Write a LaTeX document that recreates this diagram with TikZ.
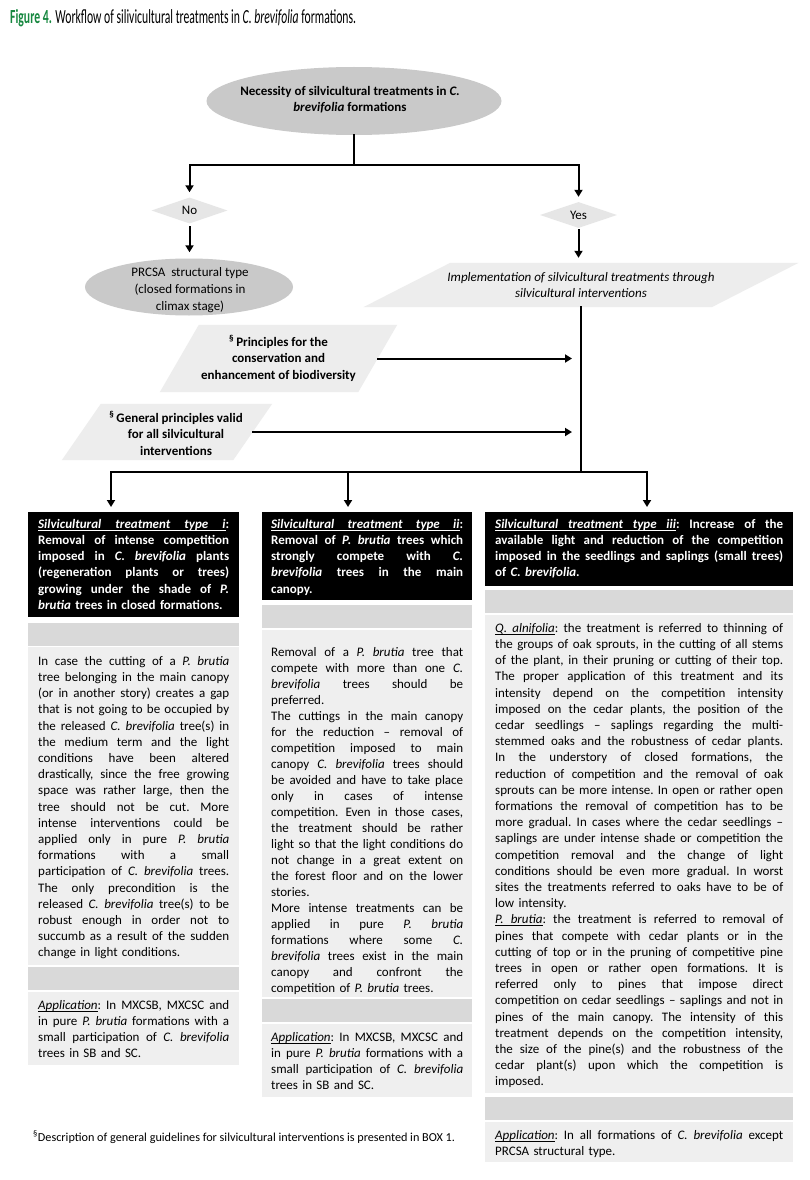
\documentclass[tikz,border=0pt]{standalone}
\usepackage{fontspec}
\setmainfont{Carlito}
\newfontfamily\titlefont[FakeStretch=0.585]{Carlito}
\usetikzlibrary{shapes.geometric,arrows.meta,backgrounds}
\definecolor{ellgray}{HTML}{C9C9C9}
\definecolor{dgray}{HTML}{E6E6E6}
\definecolor{pgray}{HTML}{EDEDED}
\definecolor{bargray}{HTML}{D9D9D9}
\definecolor{bodygray}{HTML}{EFEFEF}
\definecolor{figgreen}{HTML}{16873F}
\newcommand{\bodyfs}{\fontsize{13}{16.2}\selectfont\frenchspacing}
\newcommand{\JL}[1]{{\spaceskip=\fontdimen2\font plus 10pt minus 0.5pt\relax\makebox[\linewidth][s]{#1}}\\}
\newcommand{\ulw}[1]{\setbox0\hbox{#1}\rlap{\vrule height-1.6pt depth2.2pt width\wd0}\box0}
\newcommand{\uls}{\leaders\vrule height-1.6pt depth2.2pt\hskip\fontdimen2\font plus 10pt minus 0.5pt\relax}
\newcommand{\pfill}[2]{\fill[pgray] ([xshift=-#2]#1.south west) -- ([xshift=-#2]#1.south east) -- ([xshift=#2]#1.north east) -- ([xshift=#2]#1.north west) -- cycle;}
\tikzset{
  conn/.style={line width=2pt, draw=black, line cap=rect},
  arr/.style={conn, -{Triangle[length=7pt,width=8pt]}},
  ellbox/.style={ellipse, fill=ellgray, inner sep=0pt, draw=none},
  dia/.style={diamond, fill=dgray, inner sep=0pt, draw=none, font=\bodyfs},
  para/.style={rectangle, inner sep=0pt, draw=none, align=center},
  box/.style={rectangle, anchor=north west, inner sep=0pt, draw=none},
  hdr/.style={box, fill=black},
  barbox/.style={box, fill=bargray},
  bodybox/.style={box, fill=bodygray},
  coltext/.style={anchor=north west, inner sep=0pt, text width=#1, align=left},
  ctext/.style={inner sep=0pt, align=center},
}
\begin{document}
\begin{tikzpicture}[x=1pt,y=-1pt]
\useasboundingbox (0,0) rectangle (809,1180);

% title
\node[anchor=base west, inner sep=0pt, font=\titlefont\fontsize{20}{22}\selectfont] (title) at (10,24)
  {\textcolor{figgreen}{\bfseries Figure 4.} Workflow of silivicultural treatments in \textit{C. brevifolia} formations.};

% top ellipse
\node[ellbox, minimum width=295pt, minimum height=68pt] (top) at (354,101) {};
\node[ctext, font=\fontsize{13}{15.5}\selectfont\bfseries] (toptext) at (350,99.5)
  {Necessity of silvicultural treatments in \textit{C.}\\\textit{brevifolia} formations};

% diamonds
\node[dia, minimum width=76pt, minimum height=26pt] (no) at (189.5,210.5) {No};
\node[dia, minimum width=77pt, minimum height=26pt] (yes) at (578.5,215) {Yes};

% PRCSA ellipse
\node[ellbox, minimum width=208pt, minimum height=57pt] (prcsa) at (189,287) {};
\node[ctext, font=\fontsize{13}{17}\selectfont] (prtext) at (190,290)
  {PRCSA\ \ structural type\\(closed formations in\\climax stage)};

% implementation parallelogram
\node[para, minimum width=348pt, minimum height=44pt, font=\fontsize{13}{16}\selectfont\itshape] (impl) at (581,285)
  {Implementation of silvicultural treatments through\\silvicultural interventions};

% principles
\node[para, minimum width=198pt, minimum height=67pt, font=\fontsize{13}{16.5}\selectfont\bfseries] (pr) at (278.5,358.5)
  {\textsuperscript{\S}\,Principles for the\\conservation and\\enhancement of biodiversity};
\node[para, minimum width=171pt, minimum height=56pt] (gen) at (167,432) {};
\node[ctext, font=\fontsize{13}{16.5}\selectfont\bfseries] (gentext) at (176,433.5)
  {\textsuperscript{\S}\,General principles valid\\for all silvicultural\\interventions};

% ---------- column 1
\node[hdr, minimum width=211pt, minimum height=105pt] (h1) at (28,512) {};
\node[coltext=191pt, text=white, font=\bodyfs\bfseries] (h1t) at (38,516.7)
{\strut\JL{\textit{\ulw{Silvicultural}\uls\ulw{treatment}\uls\ulw{type}\uls\ulw{i}}:}
\JL{Removal of intense competition}
\JL{imposed in \textit{C. brevifolia} plants}
\JL{(regeneration plants or trees)}
\JL{growing under the shade of \textit{P.}}
\textit{brutia} trees in closed formations.};
\node[barbox, minimum width=211pt, minimum height=23pt] (k1) at (28,623) {};
\node[bodybox, minimum width=211pt, minimum height=318pt] (b1) at (28,647) {};
\node[coltext=191pt, font=\bodyfs] (b1t) at (38,653.7)
{\strut\JL{In case the cutting of a \textit{P. brutia}}
\JL{tree belonging in the main canopy}
\JL{(or in another story) creates a gap}
\JL{that is not going to be occupied by}
\JL{the released \textit{C. brevifolia} tree(s) in}
\JL{the medium term and the light}
\JL{conditions have been altered}
\JL{drastically, since the free growing}
\JL{space was rather large, then the}
\JL{tree should not be cut. More}
\JL{intense interventions could be}
\JL{applied only in pure \textit{P. brutia}}
\JL{formations with a small}
\JL{participation of \textit{C. brevifolia} trees.}
\JL{The only precondition is the}
\JL{released \textit{C. brevifolia} tree(s) to be}
\JL{robust enough in order not to}
\JL{succumb as a result of the sudden}
change in light conditions.};
\node[barbox, minimum width=211pt, minimum height=23pt] (k1b) at (28,967) {};
\node[bodybox, minimum width=211pt, minimum height=73pt] (a1) at (28,992) {};
\node[coltext=191pt, font=\bodyfs] (a1t) at (38,997.7)
{\strut\JL{\textit{\ulw{Application}}: In MXCSB, MXCSC and}
\JL{in pure \textit{P. brutia} formations with a}
\JL{small participation of \textit{C. brevifolia}}
trees in SB and SC.};

% ---------- column 2
\node[hdr, minimum width=210pt, minimum height=88pt] (h2) at (262,512) {};
\node[coltext=192pt, text=white, font=\bodyfs\bfseries] (h2t) at (271,516.7)
{\strut\JL{\textit{\ulw{Silvicultural}\uls\ulw{treatment}\uls\ulw{type}\uls\ulw{ii}}:}
\JL{Removal of \textit{P. brutia} trees which}
\JL{strongly compete with \textit{C.}}
\JL{\textit{brevifolia} trees in the main}
canopy.};
\node[barbox, minimum width=210pt, minimum height=23pt] (k2) at (262,605) {};
\node[bodybox, minimum width=210pt, minimum height=367pt] (b2) at (262,630) {};
\node[coltext=192pt, font=\fontsize{13}{16}\selectfont\frenchspacing] (b2t) at (271,644.8)
{\strut\JL{Removal of a \textit{P. brutia} tree that}
\JL{compete with more than one \textit{C.}}
\JL{\textit{brevifolia} trees should be}
preferred.\\
\JL{The cuttings in the main canopy}
\JL{for the reduction -- removal of}
\JL{competition imposed to main}
\JL{canopy \textit{C. brevifolia} trees should}
\JL{be avoided and have to take place}
\JL{only in cases of intense}
\JL{competition. Even in those cases,}
\JL{the treatment should be rather}
\JL{light so that the light conditions do}
\JL{not change in a great extent on}
\JL{the forest floor and on the lower}
stories.\\
\JL{More intense treatments can be}
\JL{applied in pure \textit{P.} \textit{brutia}}
\JL{formations where some \textit{C.}}
\JL{\textit{brevifolia} trees exist in the main}
\JL{canopy and confront the}
competition of \textit{P. brutia} trees.};
\node[barbox, minimum width=210pt, minimum height=23pt] (k2b) at (262,999) {};
\node[bodybox, minimum width=210pt, minimum height=73pt] (a2) at (262,1024) {};
\node[coltext=192pt, font=\bodyfs] (a2t) at (271,1029.7)
{\strut\JL{\textit{\ulw{Application}}: In MXCSB, MXCSC and}
\JL{in pure \textit{P. brutia} formations with a}
\JL{small participation of \textit{C. brevifolia}}
trees in SB and SC.};

% ---------- column 3
\node[hdr, minimum width=308pt, minimum height=74pt] (h3) at (485,512) {};
\node[coltext=288pt, text=white, font=\bodyfs\bfseries] (h3t) at (495,516.7)
{\strut\JL{\textit{\ulw{Silvicultural}\uls\ulw{treatment}\uls\ulw{type}\uls\ulw{iii}}: Increase of the}
\JL{available light and reduction of the competition}
\JL{imposed in the seedlings and saplings (small trees)}
of \textit{C. brevifolia.}};
\node[barbox, minimum width=308pt, minimum height=23pt] (k3) at (485,590) {};
\node[bodybox, minimum width=308pt, minimum height=478pt] (b3) at (485,615) {};
\node[coltext=288pt, font=\bodyfs] (b3t) at (495,620.7)
{\strut\JL{\textit{\ulw{Q.}\uls\ulw{alnifolia}}: the treatment is referred to thinning of}
\JL{the groups of oak sprouts, in the cutting of all stems}
\JL{of the plant, in their pruning or cutting of their top.}
\JL{The proper application of this treatment and its}
\JL{intensity depend on the competition intensity}
\JL{imposed on the cedar plants, the position of the}
\JL{cedar seedlings -- saplings regarding the multi-}
\JL{stemmed oaks and the robustness of cedar plants.}
\JL{In the understory of closed formations, the}
\JL{reduction of competition and the removal of oak}
\JL{sprouts can be more intense. In open or rather open}
\JL{formations the removal of competition has to be}
\JL{more gradual. In cases where the cedar seedlings --}
\JL{saplings are under intense shade or competition the}
\JL{competition removal and the change of light}
\JL{conditions should be even more gradual. In worst}
\JL{sites the treatments referred to oaks have to be of}
low intensity.\\
\JL{\textit{\ulw{P.}\uls\ulw{brutia}}: the treatment is referred to removal of}
\JL{pines that compete with cedar plants or in the}
\JL{cutting of top or in the pruning of competitive pine}
\JL{trees in open or rather open formations. It is}
\JL{referred only to pines that impose direct}
\JL{competition on cedar seedlings -- saplings and not in}
\JL{pines of the main canopy. The intensity of this}
\JL{treatment depends on the competition intensity,}
\JL{the size of the pine(s) and the robustness of the}
\JL{cedar plant(s) upon which the competition is}
imposed.};
\node[barbox, minimum width=308pt, minimum height=23pt] (k3b) at (485,1097) {};
\node[bodybox, minimum width=308pt, minimum height=40pt] (a3) at (485,1122) {};
\node[coltext=288pt, font=\bodyfs] (a3t) at (495,1127.7)
{\strut\JL{\textit{\ulw{Application}}: In all formations of \textit{C. brevifolia} except}
PRCSA structural type.};

% footnote
\node[anchor=base west, inner sep=0pt, font=\fontsize{12.2}{14}\selectfont] (foot) at (33,1141)
  {\textsuperscript{\S}Description of general guidelines for silvicultural interventions is presented in BOX 1.};

% connectors
\coordinate (topj) at (354,165);
\coordinate (trunk) at (581,472);
\coordinate (bl) at (111,472);
\coordinate (bm) at (348,472);
\coordinate (brr) at (647,472);
\draw[conn] (top.south) -- (topj);
\draw[arr, shorten >=5pt] (topj) -| (no.north);
\draw[arr, shorten >=5pt] (topj) -| (yes.north);
\draw[arr, shorten <=3pt, shorten >=6pt] (no.south) -- (no.south |- prcsa.north);
\draw[arr, shorten <=2pt, shorten >=5pt] (yes.south) -- (yes.south |- impl.north);
\draw[conn] (impl.south) -- (trunk);
\draw[conn] (bl) -- (brr);
\draw[arr, shorten >=5pt] (bl) -- (bl |- h1.north);
\draw[arr, shorten >=5pt] (bm) -- (bm |- h2.north);
\draw[arr, shorten >=5pt] (brr) -- (brr |- h3.north);
\draw[arr, shorten >=9pt] (pr.east) -- (pr.east -| trunk);
\draw[arr, shorten >=9pt] (gen.east) -- (gen.east -| trunk);

\begin{scope}[on background layer]
  \fill[white] (0,0) rectangle (809,1180);
  \pfill{impl}{43.5}
  \pfill{pr}{19.5}
  \pfill{gen}{19.5}
\end{scope}
\end{tikzpicture}
\end{document}
